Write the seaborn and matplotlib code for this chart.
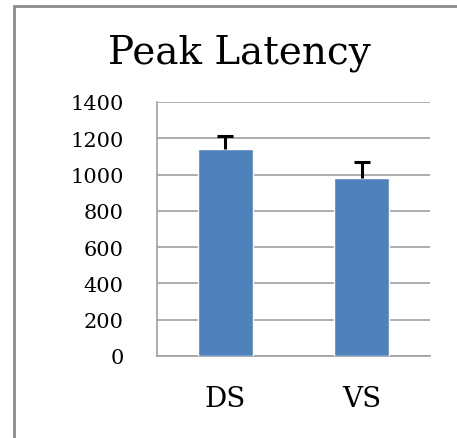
import numpy as np
import pandas as pd
import matplotlib
matplotlib.use("Agg")
import matplotlib.pyplot as plt
import matplotlib.patches as mpatches
import seaborn as sns

# data
groups = ["DS", "VS"]
latency = [1140, 979]
err_up = [72, 89]
y_ticks = [0, 200, 400, 600, 800, 1000, 1200, 1400]

df = pd.DataFrame({"group": groups, "latency": latency})

sns.set_style("white")
plt.rcParams['font.family'] = ['DejaVu Serif']
plt.rcParams['text.color'] = 'black'
plt.rcParams['xtick.color'] = 'black'
plt.rcParams['ytick.color'] = 'black'

W, H = 457, 439
fig = plt.figure(figsize=(W / 100, H / 100), dpi=100)
ax = fig.add_axes([157 / W, 1 - 357 / H, (430 - 157) / W, (357 - 103) / H])

sns.barplot(data=df, x="group", y="latency", color="#4F81BD", width=0.4,
            saturation=1, errorbar=None, ax=ax, zorder=3)
eb = ax.errorbar(range(len(groups)), latency, yerr=[[0] * len(groups), err_up],
                 fmt="none", ecolor="black", elinewidth=2.2, capsize=5.5, capthick=2.2, zorder=4)
# only the upper cap
eb[1][0].set_visible(False)

ax.set_xlim(-0.5, 1.5)
ax.set_ylim(0, 1400)
ax.set_yticks(y_ticks)
ax.set_yticklabels([str(v) for v in y_ticks], fontsize=15)
ax.yaxis.grid(True, color="#a0a0a0", linewidth=1.2, zorder=0)

# category boundaries as major ticks, names on minor ticks
ax.set_xticks([-0.5, 0.5, 1.5])
ax.set_xticklabels([])
ax.set_xticks([0, 1], minor=True)
ax.set_xticklabels(groups, minor=True, fontsize=20)
ax.tick_params(axis="x", which="major", length=8, width=1.2, color="#a0a0a0", direction="out")
ax.tick_params(axis="x", which="minor", length=0, pad=21)
ax.tick_params(axis="y", length=10, width=1.2, color="#a0a0a0", direction="out", pad=14)
ax.set_xlabel("")
ax.set_ylabel("")

for s in ["top", "right"]:
    ax.spines[s].set_visible(False)
for s in ["left", "bottom"]:
    ax.spines[s].set_color("#a0a0a0")
    ax.spines[s].set_linewidth(1.2)

fig.text(239 / W, 1 - 63 / H, "Peak Latency", ha="center", va="baseline", fontsize=28, color="black")

fig.patches.append(mpatches.Rectangle((14 / W, -0.1), 1.2, 1 - 7 / H + 0.1,
                                      transform=fig.transFigure, fill=False,
                                      edgecolor="#8c8c8c", linewidth=2))

fig.savefig("out.png", dpi=100)
